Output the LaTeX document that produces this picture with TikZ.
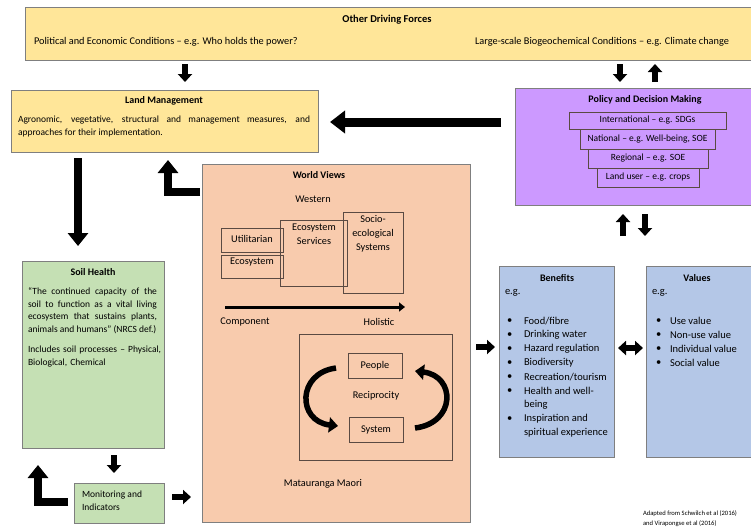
\documentclass[tikz,border=0pt]{standalone}
\usepackage{fontspec}
\setmainfont{Carlito}
\usetikzlibrary{arrows.meta}
\definecolor{yel}{HTML}{FFE699}
\definecolor{pur}{HTML}{CC99FF}
\definecolor{pea}{HTML}{F8CBAD}
\definecolor{grn}{HTML}{C5E0B4}
\definecolor{blu}{HTML}{B4C7E7}
\definecolor{bord}{HTML}{7F7F7F}
\definecolor{inb}{HTML}{5A4A42}
\begin{document}
\begin{tikzpicture}[x=1pt,y=-1pt,
  every node/.style={inner sep=0pt, outer sep=0pt},
  box/.style={draw=bord, line width=0.9pt, anchor=north west},
  ibox/.style={draw=inb, line width=0.7pt, anchor=north west},
  ttl/.style={font=\fontsize{10}{12}\selectfont\bfseries},
  txt/.style={font=\fontsize{9.5}{12.5}\selectfont},
  otxt/.style={font=\fontsize{10.3}{12.5}\selectfont},
  wtxt/.style={font=\fontsize{10.3}{14}\selectfont},
  btxt/.style={font=\fontsize{10.5}{14}\selectfont, anchor=west},
  sarrow/.style={line width=5.5pt, -{Triangle[width=14pt,length=8pt]}},
  larrow/.style={line width=8pt, -{Triangle[width=20pt,length=13pt]}, line join=miter},
  carrow/.style={line width=5.5pt, -{Triangle[width=15pt,length=9pt]}}
]
\useasboundingbox (0,0) rectangle (751,528);

% Other Driving Forces
\node[box, fill=yel, minimum width=726, minimum height=53] (odf) at (25,7) {};
\node[ttl, font=\fontsize{10.5}{12}\selectfont\bfseries] (odft) at (387,20) {Other Driving Forces};
\node[otxt, anchor=west] (odfl) at (34,42) {Political and Economic Conditions – e.g. Who holds the power?};
\node[otxt, anchor=east] (odfr) at (729,42) {Large-scale Biogeochemical Conditions – e.g. Climate change};

% Land Management
\node[box, fill=yel, minimum width=307, minimum height=62] (lm) at (11,90) {};
\node[ttl] (lmt) at (164,101) {Land Management};
\node[txt, anchor=north west, text width=292, align=justify] (lmb) at (18,116)
  {Agronomic, vegetative, structural and management measures, and\linebreak approaches for their implementation.};

% Policy
\node[box, fill=pur, minimum width=236, minimum height=117] (pol) at (515,88) {};
\node[ttl] (polt) at (645,100) {Policy and Decision Making};
\node[ibox, minimum width=157, minimum height=17] (p1) at (569,112) {};
\node[txt] (p1t) at (p1.center) {International – e.g. SDGs};
\node[ibox, minimum width=135, minimum height=20] (p2) at (580,129) {};
\node[txt] (p2t) at (p2.center) {National – e.g. Well-being, SOE};
\node[ibox, minimum width=120, minimum height=19] (p3) at (588,149) {};
\node[txt] (p3t) at (p3.center) {Regional – e.g. SOE};
\node[ibox, minimum width=102, minimum height=19] (p4) at (597,168) {};
\node[txt] (p4t) at (p4.center) {Land user – e.g. crops};

% World Views
\node[box, fill=pea, minimum width=268, minimum height=358] (wv) at (202,164) {};
\node[ttl] (wvt) at (319,175) {World Views};
\node[wtxt] (west) at (313,199) {Western};
\node[ibox, minimum width=62, minimum height=24] (util) at (221,228) {};
\node[wtxt] (utilt) at (252,239) {Utilitarian};
\node[ibox, minimum width=62, minimum height=23] (eco) at (221,255) {};
\node[wtxt] (ecot) at (252,262) {Ecosystem};
\node[ibox, minimum width=67, minimum height=66] (es) at (280,220) {};
\node[wtxt, align=center, anchor=north] (est) at (314,224) {Ecosystem\\Services};
\node[ibox, minimum width=60, minimum height=81] (ses) at (343,212) {};
\node[wtxt, align=center, anchor=north] (sest) at (373,215) {Socio-\\ecological\\Systems};
\coordinate (ca) at (225,307);
\coordinate (cb) at (405,307);
\draw[line width=3pt, -{Triangle[width=9pt,length=6pt]}] (ca) -- (cb);
\node[wtxt] (comp) at (245,322) {Component};
\node[wtxt] (hol) at (379,322) {Holistic};
\node[ibox, minimum width=153, minimum height=126] (rec) at (299,334) {};
\node[ibox, minimum width=54, minimum height=25] (peo) at (348,353) {};
\node[wtxt] (peot) at (peo.center) {People};
\node[wtxt] (rect) at (376,396) {Reciprocity};
\node[ibox, minimum width=54, minimum height=25] (sys) at (349,417) {};
\node[wtxt] (syst) at (sys.center) {System};
\coordinate (l1) at (336,368);
\coordinate (l2) at (338,426);
\coordinate (r1) at (415,428);
\coordinate (r2) at (415,371);
\draw[carrow] (l1) .. controls (297,373) and (297,421) .. (l2);
\draw[carrow] (r1) .. controls (456,423) and (456,376) .. (r2);
\node[wtxt] (mm) at (323,484) {Matauranga Maori};

% Soil Health
\node[box, fill=grn, minimum width=142, minimum height=187] (sh) at (22,261) {};
\node[ttl] (sht) at (93,272) {Soil Health};
\node[txt, anchor=north west, text width=129, align=justify] (shq) at (28,288)
  {“The continued capacity of the soil to function as a vital living ecosystem that sustains plants, animals and humans” (NRCS def.)};
\node[txt, anchor=north west, text width=134, align=left] (shi) at (28,346)
  {Includes soil processes – Physical,\\Biological, Chemical};

% Monitoring
\node[box, fill=grn, minimum width=90, minimum height=40] (mon) at (74,483) {};
\node[txt, anchor=north west, align=left] (mont) at (82,491) {Monitoring and\\Indicators};

% Benefits
\node[box, fill=blu, minimum width=115, minimum height=191] (ben) at (499,266) {};
\node[ttl] (bent) at (557,278) {Benefits};
\node[btxt] (beneg) at (505,293) {e.g.};
\foreach \t [count=\i] in {Food/fibre, Drinking water, Hazard regulation, Biodiversity, Recreation/tourism, Health and well-, being, Inspiration and, spiritual experience}{
  \node[btxt] (bl\i) at (524,307+14*\i) {\t};
}
\foreach \i in {1,2,3,4,5,6,8}{
  \node[btxt] (bb\i) at (507,307+14*\i) {\textbullet};
}

% Values
\node[box, fill=blu, minimum width=106, minimum height=191] (val) at (646,266) {};
\node[ttl] (valt) at (697,278) {Values};
\node[btxt] (valeg) at (652,293) {e.g.};
\foreach \t [count=\i] in {Use value, Non-use value, Individual value, Social value}{
  \node[btxt] (vl\i) at (670,307+14*\i) {\t};
  \node[btxt] (vb\i) at (656,307+14*\i) {\textbullet};
}

% Footnote
\node[anchor=west, font=\fontsize{6.6}{10.5}\selectfont, align=left] (fn) at (643,518.5)
  {Adapted from Schwilch et al (2016)\\and Virapongse et al (2016)};

% Arrows
\coordinate (a1s) at (185,64); \coordinate (a1e) at (185,82);
\draw[sarrow] (a1s) -- (a1e);
\coordinate (a2s) at (620,64); \coordinate (a2e) at (620,82);
\draw[sarrow] (a2s) -- (a2e);
\coordinate (a3s) at (655,82); \coordinate (a3e) at (655,64);
\draw[sarrow] (a3s) -- (a3e);
\coordinate (a4s) at (623,236); \coordinate (a4e) at (623,214);
\draw[sarrow] (a4s) -- (a4e);
\coordinate (a5s) at (645,214); \coordinate (a5e) at (645,236);
\draw[sarrow] (a5s) -- (a5e);
\coordinate (pl) at (501,122); \coordinate (lr) at (330,122);
\draw[line width=9pt, -{Triangle[width=22pt,length=15pt]}] (pl) -- (lr);
\coordinate (d1s) at (78,158); \coordinate (d1e) at (78,246);
\draw[larrow] (d1s) -- (d1e);
\coordinate (L1s) at (200,192); \coordinate (L1e) at (168,160);
\draw[larrow] (L1s) -| (L1e);
\coordinate (d2s) at (114,455); \coordinate (d2e) at (114,473);
\draw[sarrow] (d2s) -- (d2e);
\coordinate (L2s) at (68,502); \coordinate (L2e) at (38,465);
\draw[larrow] (L2s) -| (L2e);
\coordinate (m1) at (172,497); \coordinate (m2) at (191,497);
\draw[sarrow] (m1) -- (m2);
\coordinate (b1) at (476,347); \coordinate (b2) at (495,347);
\draw[sarrow] (b1) -- (b2);
\coordinate (v1) at (618,348); \coordinate (v2) at (643,348);
\draw[line width=5.5pt, {Triangle[width=14pt,length=8pt]}-{Triangle[width=14pt,length=8pt]}] (v1) -- (v2);
\end{tikzpicture}
\end{document}
